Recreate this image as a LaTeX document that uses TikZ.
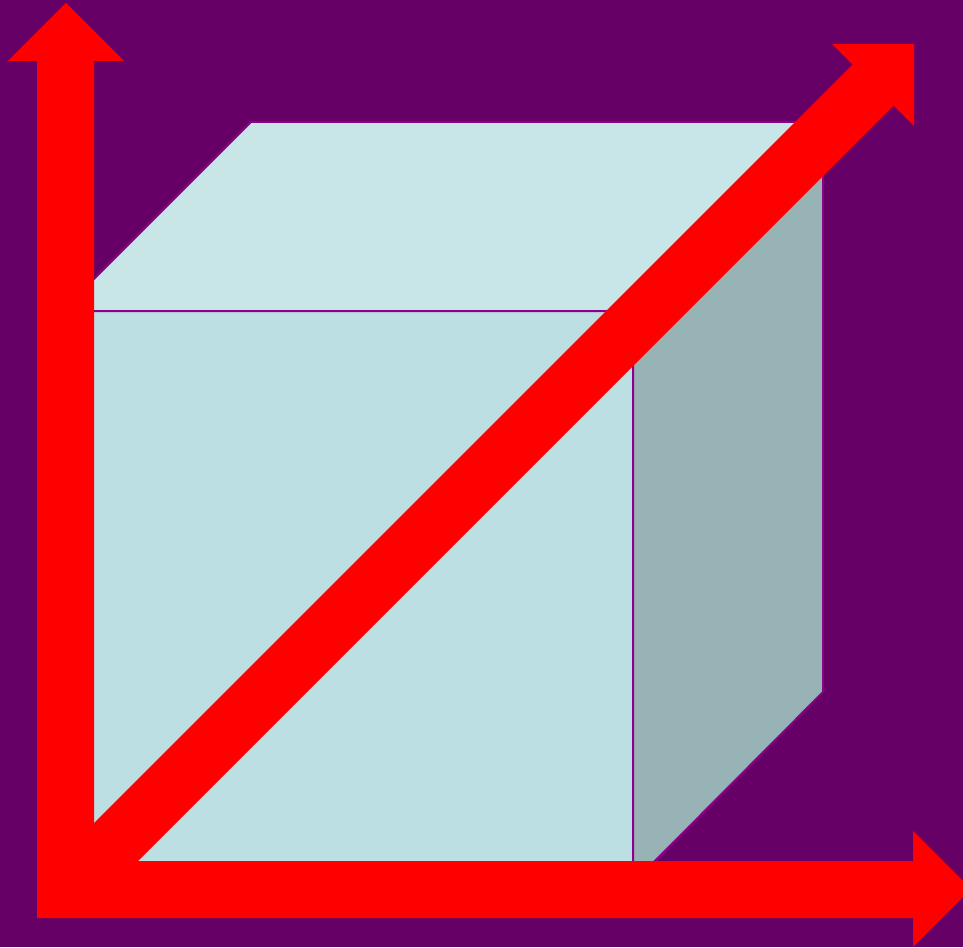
\documentclass[tikz,border=0pt]{standalone}
\definecolor{bgpurple}{RGB}{102,0,102}
\definecolor{edgepurple}{RGB}{140,0,140}
\definecolor{frontface}{RGB}{187,223,227}
\definecolor{topface}{RGB}{200,230,232}
\definecolor{sideface}{RGB}{151,179,181}
\definecolor{arrowred}{RGB}{255,0,0}
\begin{document}
\begin{tikzpicture}[x=1pt,y=-1pt,
  face/.style={draw=edgepurple,line width=2pt,line join=miter},
  bigarrow/.style={fill=arrowred,draw=none}]
\fill[bgpurple] (0,0) rectangle (963,947);
\useasboundingbox (0,0) rectangle (963,947);
% cube corners
\coordinate (FTL) at (62,311);
\coordinate (FTR) at (633,311);
\coordinate (FBR) at (633,883);
\coordinate (FBL) at (62,883);
\coordinate (BTL) at (251,122);
\coordinate (BTR) at (823,122);
\coordinate (BBR) at (823,692);
% faces
\filldraw[face,fill=frontface] (FTL) -- (FTR) -- (FBR) -- (FBL) -- cycle;
\filldraw[face,fill=topface] (FTL) -- (BTL) -- (BTR) -- (FTR) -- cycle;
\filldraw[face,fill=sideface] (FTR) -- (BTR) -- (BBR) -- (FBR) -- cycle;
% diagonal arrow
\fill[bigarrow] (41,876) -- (852.5,64.5) -- (832,44) -- (914,44) -- (914,126) -- (893.5,105.5) -- (82,917) -- cycle;
% vertical arrow
\fill[bigarrow] (37,917) -- (37,61) -- (8,61) -- (66,3) -- (124,61) -- (94,61) -- (94,917) -- cycle;
% horizontal arrow
\fill[bigarrow] (37,861) -- (913,861) -- (913,831) -- (971,889) -- (913,947) -- (913,918) -- (37,918) -- cycle;
\end{tikzpicture}
\end{document}
